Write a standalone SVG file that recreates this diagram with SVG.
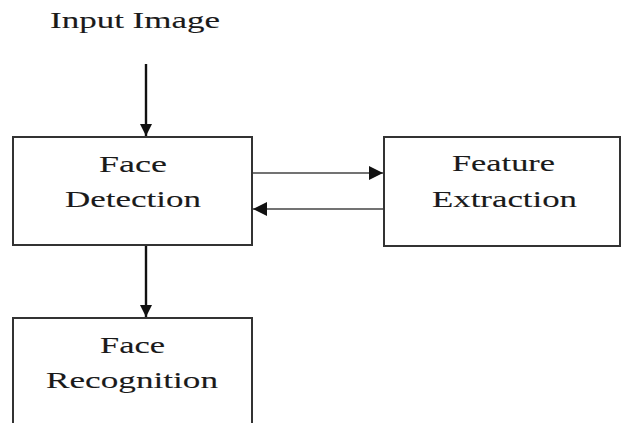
<svg xmlns="http://www.w3.org/2000/svg" width="626" height="423" viewBox="0 0 626 423">
  <style>
    .box { fill: #ffffff; stroke: #333333; stroke-width: 2; }
    .lbl { font-family: "Liberation Serif", "Times New Roman", serif; font-size: 23px; fill: #1a1a1a; stroke: #1a1a1a; stroke-width: 0.1; }
    .thick { stroke: #111111; stroke-width: 2.4; fill: none; }
    .thin { stroke: #444444; stroke-width: 1.6; fill: none; }
  </style>
  <defs>
    <marker id="ah" viewBox="0 0 10 10" refX="10" refY="5" markerUnits="userSpaceOnUse" markerWidth="16" markerHeight="12" orient="auto">
      <path d="M0,0 L10,5 L0,10 Z" fill="#111111"/>
    </marker>
    <marker id="ahs" viewBox="0 0 10 10" refX="10" refY="5" markerUnits="userSpaceOnUse" markerWidth="18" markerHeight="14" orient="auto">
      <path d="M0,0 L10,5 L0,10 Z" fill="#111111"/>
    </marker>
  </defs>
  <rect width="626" height="423" fill="#ffffff"/>

  <text class="lbl" x="50" y="28" textLength="170" lengthAdjust="spacingAndGlyphs">Input Image</text>

  <g id="face-detection">
    <rect class="box" x="13" y="137" width="239" height="108"/>
    <text class="lbl" x="99" y="172" textLength="68" lengthAdjust="spacingAndGlyphs">Face</text>
    <text class="lbl" x="65" y="207" textLength="136" lengthAdjust="spacingAndGlyphs">Detection</text>
  </g>

  <g id="feature-extraction">
    <rect class="box" x="384" y="137" width="236" height="109"/>
    <text class="lbl" x="452" y="171" textLength="103" lengthAdjust="spacingAndGlyphs">Feature</text>
    <text class="lbl" x="432" y="207" textLength="145" lengthAdjust="spacingAndGlyphs">Extraction</text>
  </g>

  <g id="face-recognition">
    <rect class="box" x="13" y="318" width="239" height="120"/>
    <text class="lbl" x="100" y="353" textLength="65" lengthAdjust="spacingAndGlyphs">Face</text>
    <text class="lbl" x="46" y="388" textLength="172" lengthAdjust="spacingAndGlyphs">Recognition</text>
  </g>

  <g id="connectors">
    <line class="thick" x1="146" y1="64" x2="146" y2="136" marker-end="url(#ah)"/>
    <line class="thick" x1="146" y1="246" x2="146" y2="317" marker-end="url(#ah)"/>
    <line class="thin" x1="253" y1="173" x2="383" y2="173" marker-end="url(#ahs)"/>
    <line class="thin" x1="383" y1="209" x2="253" y2="209" marker-end="url(#ahs)"/>
  </g>
</svg>
